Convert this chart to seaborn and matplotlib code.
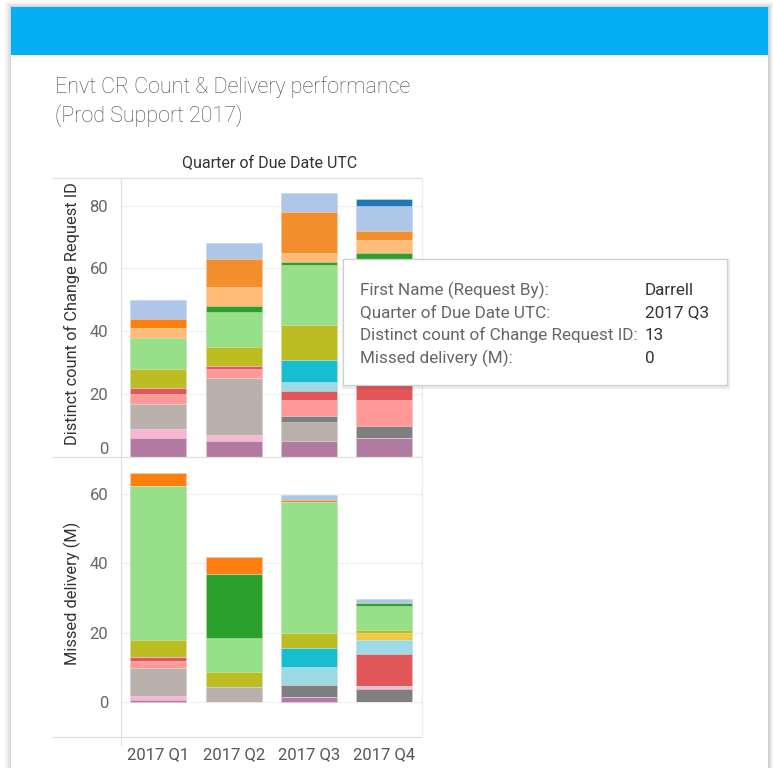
import matplotlib
matplotlib.use("Agg")
import matplotlib.pyplot as plt
from matplotlib.patches import Rectangle
from matplotlib.lines import Line2D
import seaborn as sns
import numpy as np
import pandas as pd

# ---------------- data ----------------
quarters = ["2017 Q1", "2017 Q2", "2017 Q3", "2017 Q4"]

# people in stacking order (bottom -> top), with their colours
people = ["P01", "P02", "P03", "P04", "P05", "P06", "P07", "P08", "P09",
          "P10", "P11", "P12", "P13", "P14", "Darrell", "P16", "P17", "P18"]
colors = ["#b07aa1", "#f7b6d2", "#bab0ac", "#7f7f7f", "#f9b8cd", "#ff9896",
          "#e15759", "#9edae5", "#17becf", "#edc948", "#bcbd22", "#98df8a",
          "#2ca02c", "#ffbb78", "#f28e2b", "#ff7f0e", "#aec7e8", "#1f77b4"]

# Distinct count of Change Request ID per person, Q1..Q4
count_vals = [
    [6, 5, 5, 6],      # P01 purple
    [3, 2, 0, 0],      # P02 light pink
    [8, 18, 6, 0],     # P03 warm grey
    [0, 0, 2, 4],      # P04 grey
    [0, 0, 0, 0],      # P05 pink
    [3, 3, 5, 8],      # P06 salmon
    [2, 1, 3, 8],      # P07 red
    [0, 0, 3, 7],      # P08 light cyan
    [0, 0, 7, 0],      # P09 cyan
    [0, 0, 0, 4],      # P10 yellow
    [6, 6, 11, 3],     # P11 olive
    [10, 11, 19, 23],  # P12 light green
    [0, 2, 1, 2],      # P13 green
    [3, 6, 3, 4],      # P14 light orange
    [0, 9, 13, 3],     # Darrell orange
    [3, 0, 0, 0],      # P16 bright orange
    [6, 5, 6, 8],      # P17 light blue
    [0, 0, 0, 2],      # P18 blue
]

# Missed delivery (M) per person, Q1..Q4
missed_vals = [
    [0.75, 0.0, 1.5, 0.0],
    [1.06, 0.0, 0.0, 0.0],
    [8.1, 4.4, 0.0, 0.0],
    [0.0, 0.0, 3.4, 3.8],
    [0.0, 0.0, 0.0, 0.96],
    [2.1, 0.0, 0.0, 0.0],
    [1.06, 0.0, 0.0, 9.1],
    [0.0, 0.0, 5.3, 4.2],
    [0.0, 0.0, 5.5, 0.0],
    [0.0, 0.0, 0.0, 2.0],
    [4.8, 4.3, 4.2, 0.77],
    [44.5, 9.8, 37.8, 7.0],
    [0.0, 18.4, 0.0, 0.67],
    [0.0, 0.0, 0.0, 0.0],
    [0.0, 0.0, 0.0, 0.0],
    [3.6, 4.9, 0.6, 0.0],
    [0.0, 0.0, 1.35, 1.35],
    [0.0, 0.0, 0.0, 0.0],
]

title_lines = ["Envt CR Count & Delivery performance", "(Prod Support 2017)"]
col_header = "Quarter of Due Date UTC"
ylabel_top = "Distinct count of Change Request ID"
ylabel_bot = "Missed delivery (M)"
tip_labels = ["First Name (Request By):", "Quarter of Due Date UTC:",
              "Distinct count of Change Request ID:", "Missed delivery (M):"]
tip_values = ["Darrell", "2017 Q3", "13", "0"]

# ---------------- figure ----------------
W, H = 773, 768
sns.set_theme(style="white")
plt.rcParams["font.family"] = ["Roboto", "DejaVu Sans"]

fig = plt.figure(figsize=(W / 100, H / 100), dpi=100)
fig.patch.set_facecolor("white")


def fx(px):
    return px / W


def fy(py):
    return 1 - py / H


def frect(x0, y0, x1, y1, **kw):
    r = Rectangle((fx(x0), fy(y1)), fx(x1) - fx(x0), fy(y0) - fy(y1),
                  transform=fig.transFigure, **kw)
    fig.add_artist(r)
    return r


def fline(x0, y0, x1, y1, **kw):
    l = Line2D([fx(x0), fx(x1)], [fy(y0), fy(y1)], transform=fig.transFigure, **kw)
    fig.add_artist(l)
    return l


# card shadow
for i, a in enumerate([0.025, 0.035, 0.05, 0.07]):
    d = 6 - i * 1.5
    frect(11 - d, 7 - d, 768 + d, 768 + 10, facecolor="black", alpha=a,
          edgecolor="none", zorder=-10)
frect(11, 7, 768, 768 + 10, facecolor="white", edgecolor="none", zorder=-9)
# header bar
frect(11, 7, 768, 55, facecolor="#03aef3", edgecolor="none", zorder=-8)

# title
fig.text(fx(55), fy(87), title_lines[0], fontsize=15.5, color="#4a4a4a",
         fontweight="light", ha="left", va="center")
fig.text(fx(55), fy(116), title_lines[1], fontsize=15.5, color="#4a4a4a",
         fontweight="light", ha="left", va="center")

fig.text(fx(270), fy(163), col_header, fontsize=11.5, color="#333333",
         ha="center", va="center")

# axes
left_px, right_px = 120.7, 422
ax1 = fig.add_axes([fx(left_px), fy(457), fx(right_px) - fx(left_px), (457 - 178) / H])
ax2 = fig.add_axes([fx(left_px), fy(737), fx(right_px) - fx(left_px), (737 - 457) / H])


def stacked(ax, vals):
    arr = np.array(vals, dtype=float)
    cum = np.cumsum(arr, axis=0)
    for i in range(len(people) - 1, -1, -1):
        df = pd.DataFrame({"quarter": quarters, "value": cum[i]})
        sns.barplot(data=df, x="quarter", y="value", order=quarters,
                    color=colors[i], saturation=1, width=0.74, errorbar=None,
                    edgecolor=(1, 1, 1, 0.45), linewidth=0.5, ax=ax, zorder=2)


stacked(ax1, count_vals)
stacked(ax2, missed_vals)

for ax in (ax1, ax2):
    ax.set_xlim(-0.5, 3.5)
    for s in ax.spines.values():
        s.set_visible(False)
    ax.set_xlabel("")
    ax.set_ylabel("")
    ax.grid(axis="y", color="#f0f0f0", linewidth=0.9, zorder=0)
    ax.set_axisbelow(True)
    ax.tick_params(axis="y", length=0, pad=9, labelsize=12, labelcolor="#666666")
    ax.set_facecolor("none")

ax1.set_ylim(0, 88.8)
ax1.set_yticks([0, 20, 40, 60, 80])
ax1.set_yticklabels(["0", "20", "40", "60", "80"])
ax1.get_yticklabels()[0].set_va("bottom")
ax1.set_xticks([])

ax2.set_ylim(-10.0, 70.6)
ax2.set_yticks([0, 20, 40, 60])
ax2.set_yticklabels(["0", "20", "40", "60"])
ax2.set_xticks(range(4))
ax2.set_xticklabels(quarters)
ax2.tick_params(axis="x", length=0, pad=7, labelsize=12, labelcolor="#555555")

# y labels
fig.text(fx(72), fy(314), ylabel_top, rotation=90, fontsize=11.8, color="#333333",
         ha="center", va="center")
fig.text(fx(72), fy(593), ylabel_bot, rotation=90, fontsize=11.8, color="#333333",
         ha="center", va="center")

# pane borders
bc = "#e0e0e0"
for yy in (178, 457, 737):
    fline(52, yy, right_px, yy, color=bc, linewidth=0.9, zorder=3)
fline(left_px, 178, left_px, 745, color=bc, linewidth=0.9, zorder=3)
fline(right_px, 178, right_px, 737, color="#ececec", linewidth=0.9, zorder=3)

# tooltip
for i, a in enumerate([0.02, 0.03, 0.04]):
    d = 3 - i
    frect(343 - d + 1, 259 - d + 2, 727 + d + 1, 385 + d + 2, facecolor="black",
          alpha=a, edgecolor="none", zorder=9)
frect(343, 259, 727, 385, facecolor="white", edgecolor="#cfcfcf",
      linewidth=0.9, zorder=10)
for k, (lab, val) in enumerate(zip(tip_labels, tip_values)):
    yy = 290 + k * 22.7
    t = fig.text(fx(360), fy(yy), lab, fontsize=12.3, color="#666666",
                 ha="left", va="center")
    t.set_zorder(11)
    t = fig.text(fx(645), fy(yy), val, fontsize=12.3, color="#333333",
                 ha="left", va="center")
    t.set_zorder(11)

fig.savefig("out.png", dpi=100)
